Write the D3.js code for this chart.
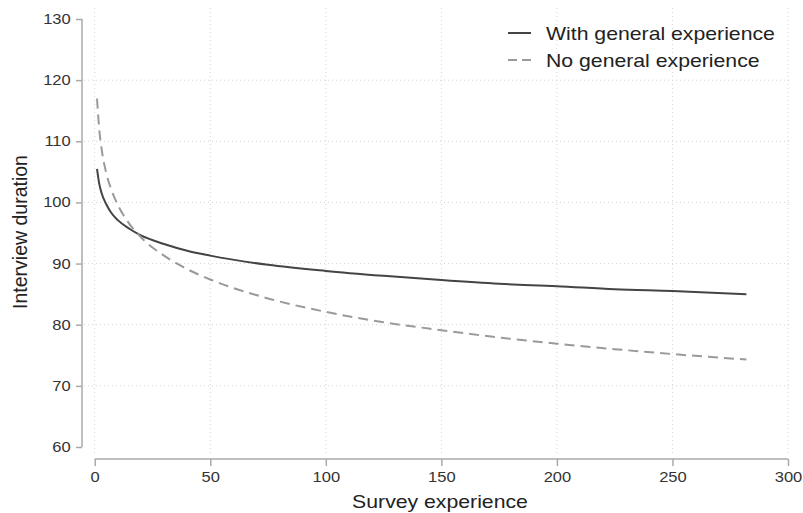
<!DOCTYPE html>
<html>
<head>
<meta charset="utf-8">
<script src="https://cdn.jsdelivr.net/npm/d3@7"></script>
<style>
  html, body { margin: 0; padding: 0; background: #fff; }
  svg { display: block; font-family: "Liberation Sans", Arial, Helvetica, sans-serif; }
</style>
</head>
<body>
<svg id="chart" width="803" height="513"></svg>
<script>
// ---- data ----
const experience = [1, 2, 3, 5, 7, 10, 15, 20, 30, 40, 50, 75, 100, 125, 150, 175, 200, 225, 250, 282];
const withGeneral = [105.5, 103.0, 101.5, 99.7, 98.4, 97.1, 95.7, 94.6, 93.2, 92.1, 91.3, 89.8, 88.8, 88.0, 87.3, 86.7, 86.3, 85.8, 85.5, 85.0];
const noGeneral = [117.0, 111.8, 108.7, 104.8, 102.3, 99.6, 96.5, 94.3, 91.3, 89.1, 87.4, 84.3, 82.1, 80.4, 79.1, 77.9, 76.9, 76.0, 75.2, 74.3];
const xTicks = [0, 50, 100, 150, 200, 250, 300];
const yTicks = [60, 70, 80, 90, 100, 110, 120, 130];
const yGrid = [70, 80, 90, 100, 110, 120];
const seriesNames = ["With general experience", "No general experience"];

// ---- layout ----
const SX = 1.18; // horizontal stretch of the original rendering
const svg = d3.select("#chart");
const x = d3.scaleLinear().domain([0, 300]).range([94.7, 788]);
const y = d3.scaleLinear().domain([60, 130]).range([447, 19]);
const axisColor = "#aaaaaa";
const textColor = "#333333";

// grid
const grid = svg.append("g");
grid.selectAll("line.v").data(xTicks).join("line")
  .attr("x1", d => x(d)).attr("x2", d => x(d))
  .attr("y1", 8).attr("y2", 455)
  .attr("stroke", "#d4d4d4").attr("stroke-width", 1).attr("stroke-dasharray", "1,3");
grid.selectAll("line.h").data(yGrid).join("line")
  .attr("x1", 84).attr("x2", 792)
  .attr("y1", d => y(d)).attr("y2", d => y(d))
  .attr("stroke", "#d4d4d4").attr("stroke-width", 1).attr("stroke-dasharray", "1,3");

// y axis
const yAxis = svg.append("g").attr("transform", "translate(82,0)")
  .call(d3.axisLeft(y).tickValues(yTicks).tickSize(6).tickPadding(5));
// x axis
const xAxis = svg.append("g").attr("transform", "translate(0,459)")
  .call(d3.axisBottom(x).tickValues(xTicks).tickSize(7).tickPadding(6));
[yAxis, xAxis].forEach(g => {
  g.select(".domain").attr("stroke", axisColor).attr("stroke-width", 1.5);
  g.selectAll(".tick line").attr("stroke", axisColor).attr("stroke-width", 1.5);
  g.selectAll(".tick text").attr("fill", textColor).style("font-size", "14px")
    .style("font-family", "'Liberation Sans', Arial, sans-serif")
    .attr("transform", `scale(${SX},1)`);
});
yAxis.selectAll(".tick text").attr("x", -11.3 / SX);
// remove outer tick caps on domain
yAxis.select(".domain").attr("d", `M0,${y(130)}V${y(60)}`);
xAxis.select(".domain").attr("d", `M${x(0)},0H${x(300)}`);

// axis titles
svg.append("text").attr("transform", `translate(440,508) scale(${SX},1)`).attr("text-anchor", "middle")
  .attr("fill", "#222").style("font-size", "18px").text("Survey experience");
svg.append("text").attr("transform", `translate(26.5,232) rotate(-90) scale(1,1.08)`).attr("text-anchor", "middle")
  .attr("fill", "#222").style("font-size", "19.5px").text("Interview duration");

// lines
const line = d3.line().x(d => x(d[0])).y(d => y(d[1])).curve(d3.curveMonotoneX);
const styles = [
  { color: "#444444", dash: null },
  { color: "#9a9a9a", dash: "10,6" }
];
const series = [withGeneral, noGeneral];
series.forEach((vals, i) => {
  svg.append("path")
    .datum(experience.map((e, j) => [e, vals[j]]))
    .attr("d", line)
    .attr("fill", "none")
    .attr("stroke", styles[i].color)
    .attr("stroke-width", 2)
    .attr("stroke-dasharray", styles[i].dash);
});

// legend
const legend = svg.append("g");
seriesNames.forEach((name, i) => {
  const cy = 33 + i * 27;
  legend.append("line").attr("x1", 508).attr("x2", 531).attr("y1", cy).attr("y2", cy)
    .attr("stroke", styles[i].color).attr("stroke-width", 2)
    .attr("stroke-dasharray", i === 1 ? "9,5" : null);
  legend.append("text").attr("transform", `translate(546,${cy + 6.5}) scale(${SX},1)`)
    .attr("fill", "#222").style("font-size", "18px").text(name);
});
</script>
</body>
</html>
